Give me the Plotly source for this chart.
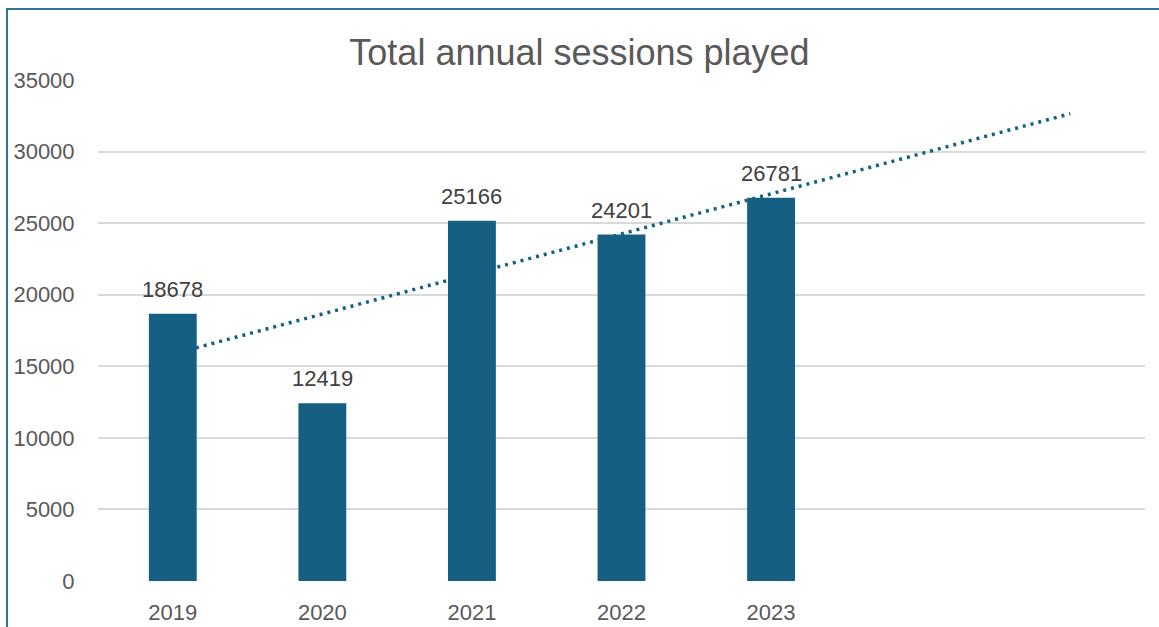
import numpy as np
import plotly.graph_objects as go

years = ["2019", "2020", "2021", "2022", "2023"]
sessions = [18678, 12419, 25166, 24201, 26781]
forecast_periods = 2
y_ticks = [0, 5000, 10000, 15000, 20000, 25000, 30000, 35000]

W, H = 1159, 627
L, R, T, B = 98, 14, 80, 46

idx = np.arange(len(years))
coef = np.polyfit(idx + 1, sessions, 1)
trend_x = np.arange(len(years) + forecast_periods)
trend_y = np.polyval(coef, trend_x + 1)

xr = [-0.5, len(years) + forecast_periods - 0.5]
yr = [0, 35000]

font = "Liberation Sans, Arial, sans-serif"

fig = go.Figure()
fig.add_trace(go.Scatter(
    x=trend_x, y=trend_y, mode="lines",
    line=dict(color="#156082", width=3.5, dash="3px,5px"),
    hoverinfo="skip", showlegend=False, xaxis="x", yaxis="y"))
fig.add_trace(go.Bar(
    x=idx, y=sessions, width=0.32, marker=dict(color="#156082", line=dict(width=0)),
    showlegend=False, xaxis="x2", yaxis="y2"))

annotations = [
    dict(x=xi, y=v, xref="x2", yref="y2", text=str(v), showarrow=False,
         xanchor="center", yanchor="bottom", yshift=10,
         font=dict(size=22, color="#404040", family=font))
    for xi, v in zip(idx, sessions)
]

pw = W - L - R
ph = H - T - B
bx0 = (7 - L) / pw
by1 = (H - B - 9) / ph

fig.update_layout(
    width=W, height=H,
    margin=dict(l=L, r=R, t=T, b=B, autoexpand=False),
    paper_bgcolor="white", plot_bgcolor="white",
    font=dict(family=font, size=22, color="#595959"),
    title=dict(text="Total annual sessions played", x=0.5, xanchor="center",
               y=1 - 52 / H, yanchor="middle", yref="container",
               font=dict(size=36, color="#595959", family=font)),
    xaxis=dict(range=xr, tickmode="array", tickvals=list(idx), ticktext=years,
               showgrid=False, zeroline=False, showline=False, automargin=False,
               ticks="outside", ticklen=12, tickcolor="rgba(0,0,0,0)",
               tickfont=dict(size=22, color="#595959")),
    yaxis=dict(range=yr, tickmode="array", tickvals=y_ticks,
               ticktext=[str(v) for v in y_ticks],
               showgrid=True, gridcolor="#d9d9d9", gridwidth=1.5,
               zeroline=False, showline=False, automargin=False,
               ticks="outside", ticklen=18, tickcolor="rgba(0,0,0,0)",
               tickfont=dict(size=22, color="#595959")),
    xaxis2=dict(range=xr, overlaying="x", visible=False),
    yaxis2=dict(range=yr, overlaying="y", visible=False),
    annotations=annotations,
    shapes=[dict(type="rect", xref="paper", yref="paper",
                 x0=bx0, x1=1.5, y0=-0.5, y1=by1,
                 line=dict(color="#2f7595", width=2), fillcolor="rgba(0,0,0,0)",
                 layer="above")],
)

fig.write_html("out.html", config={"displayModeBar": False},
               post_script="document.body.style.margin='0';document.body.style.overflow='hidden';")
